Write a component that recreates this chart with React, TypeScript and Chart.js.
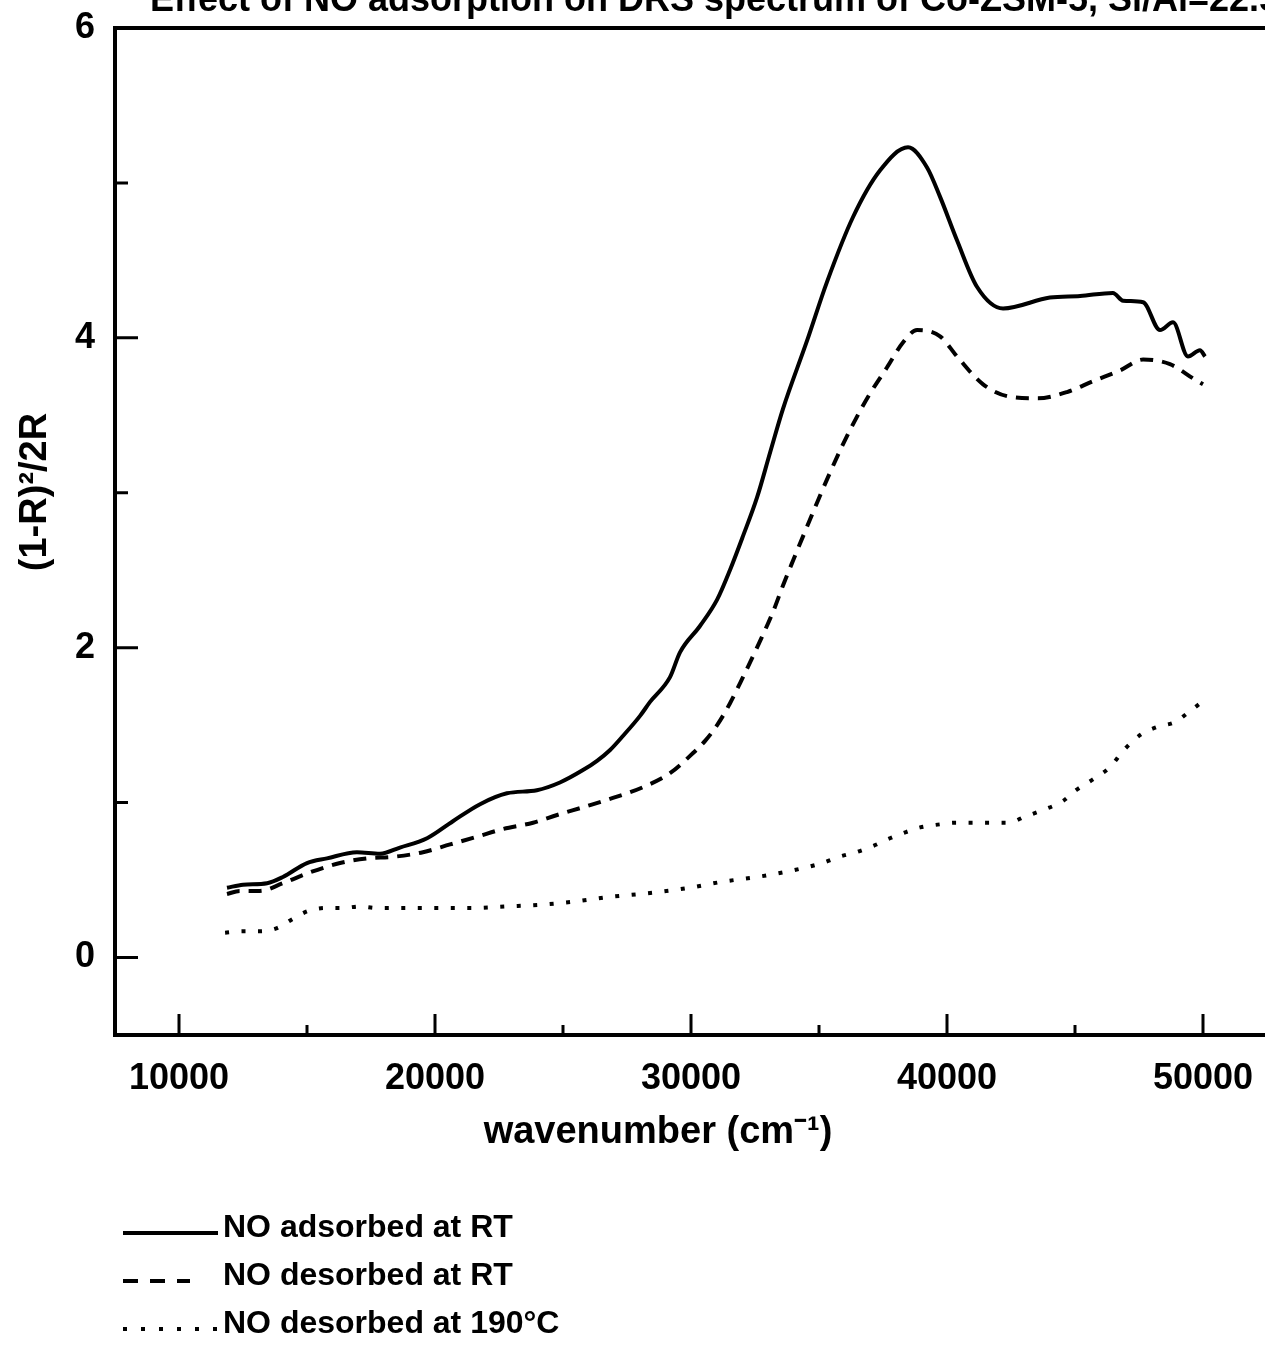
import React, { useEffect, useRef } from 'react';
import { Chart, registerables } from 'chart.js';

Chart.register(...registerables);

// ---------- text ----------
const chartTitle = 'Effect of NO adsorption on DRS spectrum of Co-ZSM-5, Si/Al=22.5';
const xAxisTitle = 'wavenumber (cm⁻¹)';
const yAxisTitle = '(1-R)²/2R';
const seriesLabels = ['NO adsorbed at RT', 'NO desorbed at RT', 'NO desorbed at 190°C'];

// ---------- data ----------
const adsorbedRT_x = [11875, 12500, 13440, 14060, 15000, 15780, 16950, 17850, 18630, 19690, 20700, 21760, 22810, 23980, 24880, 25780, 26330, 26840, 27340, 28010, 28400, 29180, 29570, 30350, 31020, 31520, 32030, 32580, 33090, 33590, 34530, 35310, 36330, 37380, 38480, 39220, 39730, 40390, 41170, 42190, 44020, 45200, 46480, 46880, 47660, 48320, 48830, 49410, 49880, 50080];
const adsorbedRT_y = [0.45, 0.47, 0.48, 0.52, 0.61, 0.64, 0.68, 0.67, 0.71, 0.77, 0.88, 0.99, 1.06, 1.08, 1.13, 1.21, 1.27, 1.34, 1.43, 1.56, 1.65, 1.81, 1.97, 2.14, 2.31, 2.50, 2.72, 2.97, 3.26, 3.54, 3.98, 4.36, 4.78, 5.08, 5.23, 5.10, 4.91, 4.63, 4.33, 4.19, 4.26, 4.27, 4.29, 4.24, 4.23, 4.05, 4.10, 3.88, 3.92, 3.88];

const desorbedRT_x = [11875, 12380, 13160, 14060, 15120, 16290, 17340, 18360, 19530, 20590, 21640, 22660, 23830, 24770, 25780, 26950, 28130, 29180, 30080, 30560, 31020, 31520, 32030, 32660, 33200, 33590, 33980, 34530, 35010, 35430, 35900, 36480, 36990, 37660, 38280, 38830, 39730, 40390, 41410, 42460, 43550, 44690, 45700, 46760, 47660, 48710, 49690, 50000];
const desorbedRT_y = [0.41, 0.43, 0.43, 0.48, 0.55, 0.61, 0.64, 0.65, 0.68, 0.73, 0.78, 0.83, 0.87, 0.92, 0.97, 1.03, 1.10, 1.19, 1.32, 1.40, 1.50, 1.64, 1.81, 2.03, 2.23, 2.40, 2.56, 2.78, 2.97, 3.13, 3.30, 3.49, 3.64, 3.81, 3.97, 4.05, 4.01, 3.88, 3.70, 3.62, 3.61, 3.65, 3.72, 3.79, 3.86, 3.83, 3.73, 3.70];

const desorbed190_x = [11800, 12500, 13160, 13830, 14450, 15040, 15780, 16410, 17070, 17730, 18910, 20200, 21480, 22810, 24100, 25390, 26760, 28590, 29920, 31250, 32580, 33910, 35120, 35780, 36450, 37110, 37770, 38400, 38950, 39730, 40270, 42380, 43050, 43710, 44530, 45040, 45700, 46370, 46910, 47580, 48240, 48910, 49410, 49960];
const desorbed190_y = [0.16, 0.17, 0.17, 0.19, 0.25, 0.30, 0.32, 0.32, 0.33, 0.32, 0.32, 0.32, 0.32, 0.33, 0.34, 0.36, 0.39, 0.42, 0.45, 0.49, 0.52, 0.56, 0.61, 0.65, 0.68, 0.72, 0.77, 0.81, 0.84, 0.86, 0.87, 0.87, 0.91, 0.95, 1.01, 1.08, 1.15, 1.23, 1.34, 1.44, 1.49, 1.52, 1.58, 1.65];

// ---------- axes ----------
const xMin = 7500;
const xMax = 52500;
const yMin = -0.5;
const yMax = 6;
const xMajorTicks = [10000, 20000, 30000, 40000, 50000];
const xMinorTicks = [15000, 25000, 35000, 45000];
const yMajorTicks = [0, 2, 4, 6];
const yMinorTicks = [1, 3, 5];

const FONT = '"Liberation Sans", Arial, Helvetica, sans-serif';
const TOP_SHIFT = 30; // canvas is shifted up so the title is cropped like the reference
const CANVAS_W = 1300;
const CANVAS_H = 1351 + TOP_SHIFT;

const lineStyles = [
  { borderDash: [] as number[], width: 4, legendDash: [] as number[] },
  { borderDash: [13, 9], width: 4, legendDash: [15, 12] },
  { borderDash: [4, 12.5], width: 4, legendDash: [4, 14] },
];

const toPoints = (xs: number[], ys: number[]) => xs.map((x, i) => ({ x, y: ys[i] }));

const decorPlugin = {
  id: 'decor',
  afterDraw(chart: any) {
    const { ctx, chartArea: a, scales } = chart;
    const xs = scales.x;
    const ys = scales.y;
    ctx.save();
    ctx.strokeStyle = '#000';
    ctx.fillStyle = '#000';
    // ticks (inside)
    ctx.lineWidth = 3;
    ctx.beginPath();
    xMajorTicks.forEach((v) => {
      const px = xs.getPixelForValue(v);
      ctx.moveTo(px, a.bottom);
      ctx.lineTo(px, a.bottom - 21);
    });
    xMinorTicks.forEach((v) => {
      const px = xs.getPixelForValue(v);
      ctx.moveTo(px, a.bottom);
      ctx.lineTo(px, a.bottom - 10);
    });
    yMajorTicks.forEach((v) => {
      const py = ys.getPixelForValue(v);
      ctx.moveTo(a.left, py);
      ctx.lineTo(a.left + 23, py);
    });
    yMinorTicks.forEach((v) => {
      const py = ys.getPixelForValue(v);
      ctx.moveTo(a.left, py);
      ctx.lineTo(a.left + 13, py);
    });
    ctx.stroke();
    // frame
    ctx.lineWidth = 4;
    ctx.strokeRect(a.left, a.top, a.right - a.left, a.bottom - a.top);

    // title (cropped by the page top)
    ctx.font = `bold 36px ${FONT}`;
    ctx.textAlign = 'left';
    ctx.textBaseline = 'alphabetic';
    ctx.fillText(chartTitle, 150, 11 + TOP_SHIFT);

    // x axis title
    ctx.font = `bold 38px ${FONT}`;
    ctx.textAlign = 'center';
    ctx.fillText(xAxisTitle, 658, 1143 + TOP_SHIFT);

    // y axis title
    ctx.save();
    ctx.translate(36, 492 + TOP_SHIFT);
    ctx.rotate(-Math.PI / 2);
    ctx.textAlign = 'center';
    ctx.textBaseline = 'middle';
    ctx.font = `bold 38px ${FONT}`;
    ctx.fillText(yAxisTitle, 0, 0);
    ctx.restore();

    // legend
    const rowBase = [1237, 1285, 1333];
    const rowLine = [1233, 1281, 1329];
    chart.data.datasets.forEach((ds: any, i: number) => {
      const st = lineStyles[i];
      ctx.save();
      ctx.lineWidth = st.width;
      ctx.setLineDash(st.legendDash);
      ctx.beginPath();
      const y = rowLine[i] + TOP_SHIFT;
      ctx.moveTo(123, y);
      ctx.lineTo(i === 1 ? 190 : 218, y);
      ctx.stroke();
      ctx.restore();
      ctx.font = `bold 32px ${FONT}`;
      ctx.textAlign = 'left';
      ctx.textBaseline = 'alphabetic';
      ctx.fillText(ds.label, 223, rowBase[i] + TOP_SHIFT);
    });
    ctx.restore();
  },
};

export default function App() {
  const ref = useRef<HTMLCanvasElement | null>(null);

  useEffect(() => {
    if (!ref.current) return;
    const seriesX = [adsorbedRT_x, desorbedRT_x, desorbed190_x];
    const seriesY = [adsorbedRT_y, desorbedRT_y, desorbed190_y];
    const chart = new Chart(ref.current, {
      type: 'line',
      data: {
        datasets: seriesLabels.map((label, i) => ({
          label,
          data: toPoints(seriesX[i], seriesY[i]),
          borderColor: '#000',
          backgroundColor: '#000',
          borderWidth: lineStyles[i].width,
          borderDash: lineStyles[i].borderDash,
          borderCapStyle: 'butt' as const,
          pointRadius: 0,
          fill: false,
          tension: 0.35,
          cubicInterpolationMode: 'monotone' as const,
        })),
      },
      options: {
        animation: false,
        responsive: false,
        devicePixelRatio: 1,
        layout: { padding: { left: 0, top: 28 + TOP_SHIFT, right: CANVAS_W - 1267, bottom: 236 } },
        plugins: {
          legend: { display: false },
          title: { display: false },
          tooltip: { enabled: false },
        },
        scales: {
          x: {
            type: 'linear',
            min: xMin,
            max: xMax,
            afterBuildTicks: (s: any) => {
              s.ticks = xMajorTicks.map((value) => ({ value }));
            },
            afterFit: (s: any) => {
              s.height = 80;
            },
            grid: { display: false, drawTicks: false },
            border: { display: false },
            ticks: {
              color: '#000',
              font: { family: FONT, size: 36, weight: 'bold' },
              padding: 22,
              maxRotation: 0,
              autoSkip: false,
              callback: (v: any) => String(v),
            },
          },
          y: {
            type: 'linear',
            min: yMin,
            max: yMax,
            afterBuildTicks: (s: any) => {
              s.ticks = yMajorTicks.map((value) => ({ value }));
            },
            afterFit: (s: any) => {
              s.width = 115;
            },
            grid: { display: false, drawTicks: false },
            border: { display: false },
            ticks: {
              color: '#000',
              font: { family: FONT, size: 36, weight: 'bold' },
              padding: 20,
              callback: (v: any) => String(v),
            },
          },
        },
      },
      plugins: [decorPlugin],
    });
    return () => chart.destroy();
  }, []);

  return (
    <div
      style={{
        position: 'absolute',
        left: 0,
        top: 0,
        width: 1265,
        height: 1351,
        overflow: 'hidden',
        background: '#fff',
      }}
    >
      <canvas
        ref={ref}
        width={CANVAS_W}
        height={CANVAS_H}
        style={{ position: 'absolute', left: 0, top: -TOP_SHIFT, width: CANVAS_W, height: CANVAS_H }}
      />
    </div>
  );
}
